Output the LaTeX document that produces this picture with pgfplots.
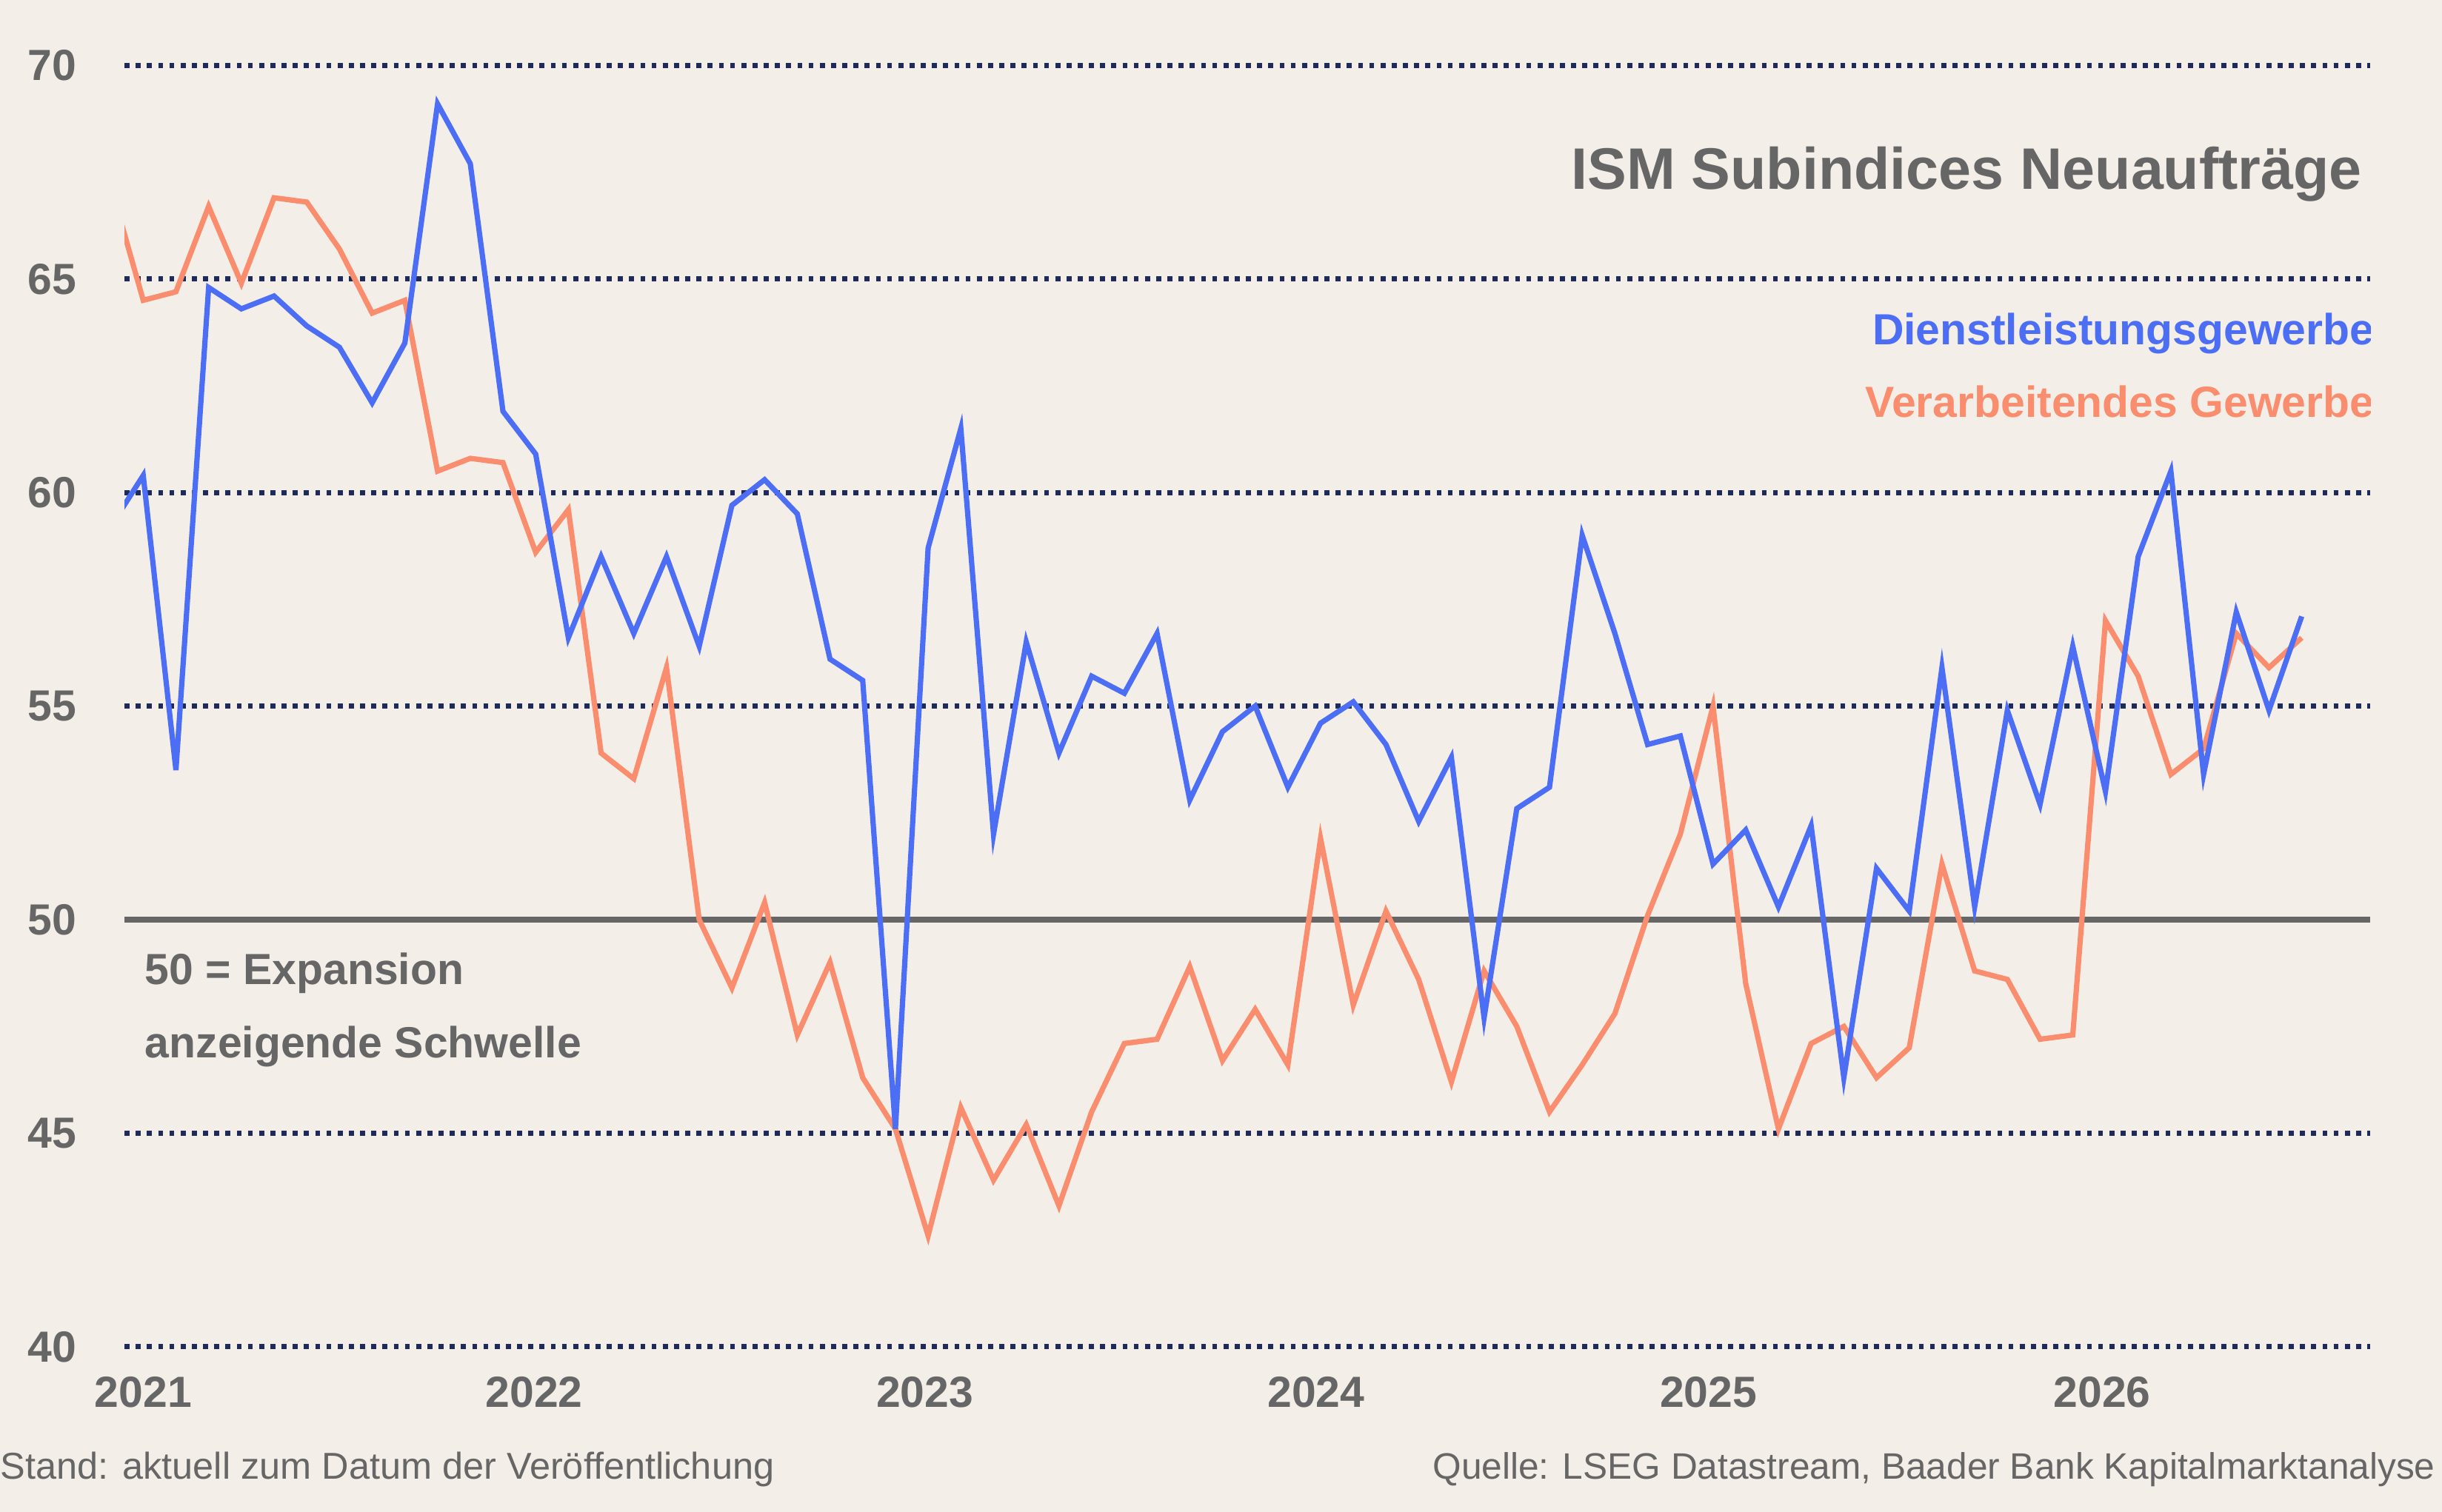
\documentclass[border=0pt]{standalone}
\usepackage{pgfplots}
\pgfplotsset{compat=1.18}
\usepackage{fontspec}
\setmainfont{Liberation Sans}
\definecolor{bg}{HTML}{F4EEE8}
\definecolor{bl}{HTML}{4C6EF5}
\definecolor{org}{HTML}{F98D6E}
\definecolor{nv}{HTML}{1E2A5A}
\definecolor{tg}{HTML}{666666}
\begin{document}
\begin{tikzpicture}
\fill[bg] (-40pt,-53pt) rectangle (744pt,432.5pt);
\begin{axis}[scale only axis, width=721pt, height=411.5pt,
 xmin=0.43, xmax=69.1, ymin=40, ymax=70,
 axis line style={draw=none}, tick style={draw=none},
 ytick={40,45,...,70}, ymajorgrids, grid style={nv, line width=1.6pt, dotted},
 xtick={1,12.95,24.9,36.86,48.86,60.9}, xticklabels={2021,2022,2023,2024,2025,2026},
 every tick label/.append style={font=\fontsize{14}{16}\selectfont\bfseries, text=tg},
 xticklabel style={yshift=-6pt},
 yticklabel style={xshift=-12pt},
 /pgf/number format/assume math mode=true,
 clip=true]
\addplot[tg, line width=2pt, forget plot] coordinates {(0.43,50)(69.1,50)};
\addplot[org, line width=1.7pt] coordinates {
(0,67.2)(1,64.5)(2,64.7)(3,66.7)(4,64.9)(5,66.9)(6,66.8)(7,65.7)(8,64.2)(9,64.5)(10,60.5)(11,60.8)(12,60.7)(13,58.6)(14,59.6)(15,53.9)(16,53.3)(17,55.9)(18,50.0)(19,48.4)(20,50.4)(21,47.3)(22,49.0)(23,46.3)(24,45.1)(25,42.6)(26,45.6)(27,43.9)(28,45.2)(29,43.3)(30,45.5)(31,47.1)(32,47.2)(33,48.9)(34,46.7)(35,47.9)(36,46.6)(37,51.9)(38,48.0)(39,50.2)(40,48.6)(41,46.2)(42,48.8)(43,47.5)(44,45.5)(45,46.6)(46,47.8)(47,50.1)(48,52.0)(49,55.0)(50,48.5)(51,45.1)(52,47.1)(53,47.5)(54,46.3)(55,47.0)(56,51.3)(57,48.8)(58,48.6)(59,47.2)(60,47.3)(61,57.0)(62,55.7)(63,53.4)(64,54.0)(65,56.7)(66,55.9)(67,56.6)};
\addplot[bl, line width=1.7pt] coordinates {
(0,59.2)(1,60.4)(2,53.5)(3,64.8)(4,64.3)(5,64.6)(6,63.9)(7,63.4)(8,62.1)(9,63.5)(10,69.1)(11,67.7)(12,61.9)(13,60.9)(14,56.6)(15,58.5)(16,56.7)(17,58.5)(18,56.4)(19,59.7)(20,60.3)(21,59.5)(22,56.1)(23,55.6)(24,45.1)(25,58.7)(26,61.5)(27,52.0)(28,56.5)(29,53.9)(30,55.7)(31,55.3)(32,56.7)(33,52.8)(34,54.4)(35,55.0)(36,53.1)(37,54.6)(38,55.1)(39,54.1)(40,52.3)(41,53.8)(42,47.7)(43,52.6)(44,53.1)(45,59.0)(46,56.7)(47,54.1)(48,54.3)(49,51.3)(50,52.1)(51,50.3)(52,52.2)(53,46.3)(54,51.2)(55,50.2)(56,55.9)(57,50.3)(58,54.9)(59,52.7)(60,56.4)(61,53.0)(62,58.5)(63,60.5)(64,53.4)(65,57.2)(66,54.9)(67,57.1)};
\node[anchor=east, text=tg, font=\fontsize{18.8}{21}\selectfont\bfseries] at (axis cs:69.18,67.45) {ISM Subindices Neuaufträge};
\node[anchor=east, text=bl, font=\fontsize{14}{16}\selectfont\bfseries] at (axis cs:69.55,63.73) {Dienstleistungsgewerbe};
\node[anchor=east, text=org, font=\fontsize{14}{16}\selectfont\bfseries] at (axis cs:69.55,62.12) {Verarbeitendes Gewerbe};
\node[anchor=west, text=tg, font=\fontsize{14}{16}\selectfont\bfseries] at (axis cs:0.72,48.75) {50 = Expansion};
\node[anchor=west, text=tg, font=\fontsize{14}{16}\selectfont\bfseries] at (axis cs:0.72,47.03) {anzeigende Schwelle};
\end{axis}
\node[anchor=west, inner sep=0pt, text=tg, font=\fontsize{12}{14}\selectfont] at (-40pt,-39.5pt) {Stand: aktuell zum Datum der Veröffentlichung};
\node[anchor=east, inner sep=0pt, text=tg, font=\fontsize{11.8}{14}\selectfont] at (742pt,-39.5pt) {Quelle: LSEG Datastream, Baader Bank Kapitalmarktanalyse};
\end{tikzpicture}
\end{document}
